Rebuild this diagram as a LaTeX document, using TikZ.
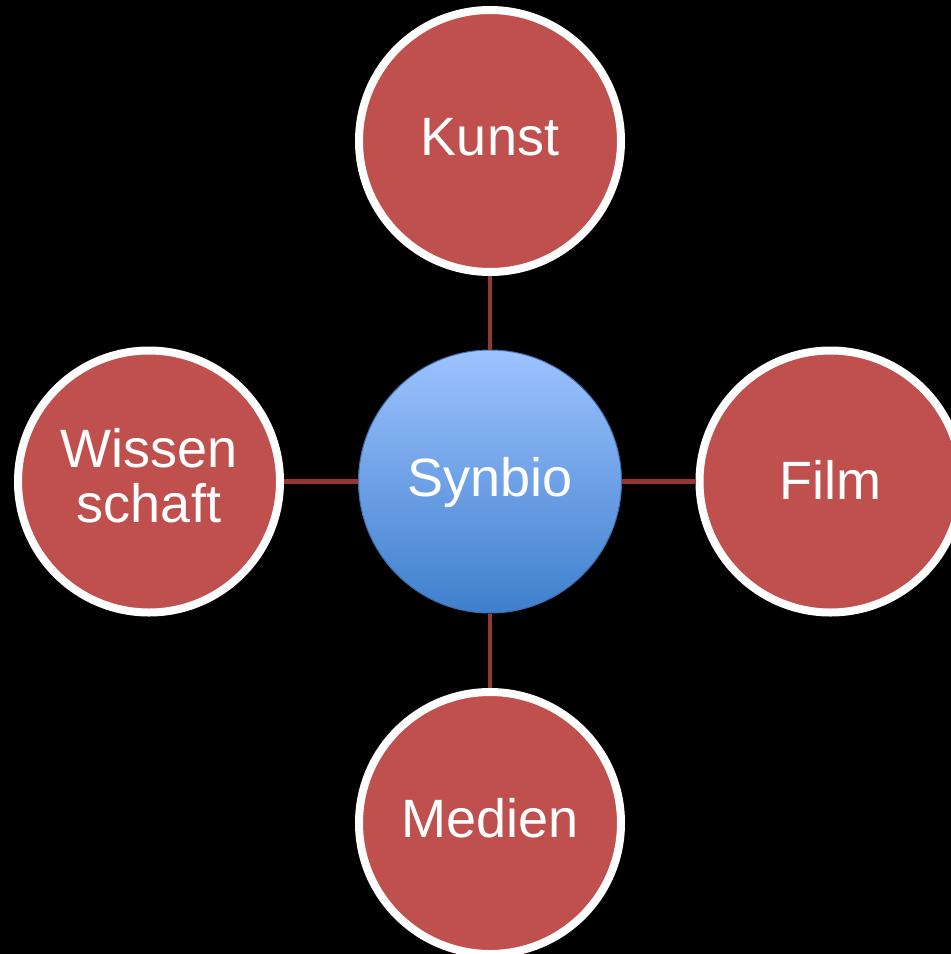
\documentclass[tikz,border=0pt]{standalone}
\usepackage{fontspec}
\setmainfont{Liberation Sans}
\definecolor{nodered}{HTML}{C0504D}
\definecolor{linkred}{HTML}{953735}
\definecolor{bluetop}{HTML}{9EC3FF}
\definecolor{bluebot}{HTML}{3E7FCD}
\definecolor{blueedge}{HTML}{3F6EA8}
\newcommand{\liftby}[2]{\raisebox{#1}[\height][\depth]{#2}}
\begin{document}
\begin{tikzpicture}[x=1pt,y=1pt,
  outer/.style={circle, minimum size=262pt, inner sep=0pt, fill=nodered, draw=white, line width=8pt,
    text=white, font=\fontsize{54}{55}\selectfont, align=center},
  hub/.style={circle, minimum size=263pt, inner sep=0pt, top color=bluetop, bottom color=bluebot,
    draw=blueedge, line width=1pt, text=white, font=\fontsize{54}{55}\selectfont},
  link/.style={draw=linkred, line width=4.8pt}]
\fill[black] (0,0) rectangle (951,-954);
\useasboundingbox (0,0) rectangle (951,-954);
\node[hub] (syn) at (490,-481.5) {\liftby{-1pt}{Synbio}};
\node[outer] (kunst) at (490,-141) {\liftby{3.5pt}{Kunst}};
\node[outer] (film) at (830.5,-481.5) {\liftby{2pt}{Film}};
\node[outer] (medien) at (490,-823) {\liftby{4.5pt}{Medien}};
\node[outer] (wiss) at (149,-481.5) {\liftby{5.5pt}{Wissen}\\\liftby{5.5pt}{schaft}};
\draw[link] (syn) -- (kunst);
\draw[link] (syn) -- (film);
\draw[link] (syn) -- (medien);
\draw[link] (syn) -- (wiss);
\end{tikzpicture}
\end{document}
